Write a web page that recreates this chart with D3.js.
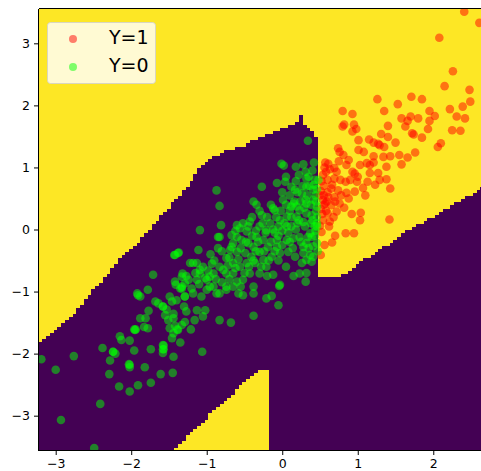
<!DOCTYPE html>
<html><head><meta charset="utf-8">
<script src="https://cdn.jsdelivr.net/npm/d3@7"></script>
<style>body{margin:0;background:#fff}svg{display:block}text{font-family:"DejaVu Sans",sans-serif;fill:#000}</style>
</head><body><svg id="c" width="481" height="471"></svg>
<script>
// ---- data ----
const xTicks = [-3, -2, -1, 0, 1, 2];
const yTicks = [-3, -2, -1, 0, 1, 2, 3];
const xDomain = [-3.221, 2.632];
const yDomain = [-3.553, 3.553];
const gridStep = 0.05;
const gridOrigin = [-3.227, -3.563];
const legendLabels = ["Y=1", "Y=0"];
// region predicted as class 0 (purple), traced as a polygon in data units
const class0Region = [
  [-3.3, -1.83], [-3.22, -1.83], [-2.81, -1.43], [-2.15, -0.48], [-1.75, -0.01],
  [-1.62, 0.20], [-1.26, 0.68], [-1.09, 1.01], [-0.92, 1.17], [-0.73, 1.28],
  [-0.56, 1.33], [-0.12, 1.57], [0.19, 1.72], [0.223, 1.72], [0.223, 1.84],
  [0.273, 1.84], [0.273, 1.70], [0.43, 1.55], [0.473, 1.41], [0.473, -0.763],
  [0.76, -0.763], [1.68, -0.01], [2.7, 0.70], [2.7, -3.6], [-0.177, -3.6],
  [-0.177, -2.263], [-0.295, -2.263], [-0.56, -2.537], [-1.486, -3.6], [-3.3, -3.6]
];
const pointsY1 = [
  [2.41,3.51],[2.61,3.33],[2.08,3.09],[2.26,2.55],[2.15,2.31],[2.48,2.25],[2.49,2.06],[2.39,1.98],
  [2.22,1.94],[2.31,1.82],[2.42,1.79],[2.36,1.59],[2.10,1.39],[2.06,1.33],[1.93,1.62],[2.02,1.83],
  [1.95,1.91],[1.85,2.10],[1.71,2.14],[1.53,2.02],[1.26,2.10],[1.35,1.91],[0.80,1.91],[0.93,1.86],
  [0.82,1.69],[0.95,1.69],[0.80,1.66],[0.93,1.58],[1.01,1.44],[1.58,1.79],[1.63,1.66],[1.70,1.82],
  [1.80,1.79],[1.66,1.75],[1.72,1.55],[1.74,1.53],[1.40,1.67],[1.31,1.54],[1.40,1.49],[1.21,1.40],
  [1.27,1.38],[1.29,1.36],[1.35,1.33],[0.74,1.31],[0.76,1.25],[0.81,1.20],[1.01,1.28],[1.21,1.18],
  [1.34,1.17],[1.43,1.18],[1.38,1.01],[1.21,1.08],[1.12,1.07],[1.76,1.24],[1.66,1.16],[1.58,1.05],
  [0.61,1.06],[0.58,0.93],[0.69,0.99],[0.72,0.93],[0.85,1.04],[0.93,0.93],[0.96,0.90],[1.03,1.04],
  [1.16,1.04],[1.16,0.91],[1.27,0.91],[1.29,0.80],[1.38,0.81],[1.43,0.66],[1.23,0.72],[1.13,0.77],
  [1.07,0.67],[0.99,0.77],[0.84,0.77],[0.77,0.80],[0.69,0.82],[0.60,0.80],[0.54,0.88],[0.65,0.66],
  [0.74,0.63],[0.85,0.59],[0.96,0.61],[0.61,0.52],[0.69,0.52],[0.54,0.48],[0.57,0.42],[0.65,0.39],
  [0.76,0.42],[0.72,0.29],[0.60,0.26],[0.51,0.33],[0.54,0.15],[0.63,0.13],[1.04,0.27],[1.03,0.15],
  [1.42,0.16],[0.84,-0.06],[0.95,-0.06],[0.66,-0.21],[0.51,-0.41],[0.57,1.08],[0.63,0.97],[0.51,0.62],
  [0.55,0.55],[0.59,0.45],[0.53,0.25],[0.50,0.06],[0.52,-0.04],[0.50,0.55],[0.55,0.40],
  [0.55,0.70],[0.60,0.60],[0.66,0.72],[0.70,0.45],[0.78,0.55],[0.82,0.35],[0.88,0.50],[0.90,0.80],
  [0.58,0.30],[0.62,0.05],[0.68,0.20],[0.52,0.78],[0.56,1.00],[0.75,1.10],[0.88,1.12],[1.00,0.85],
  [1.10,0.55],[0.92,0.25],[0.56,-0.25],[0.70,-0.10],[1.08,1.25],[1.15,1.45],[0.98,1.62],[1.50,1.40],
  [1.55,1.20],[1.85,1.48],[1.95,1.75],[2.25,1.60]
];
const pointsY0 = [
  [-3.19,-2.09],[-2.76,-2.04],[-3.00,-2.26],[-2.93,-3.07],[-2.41,-2.81],[-2.49,-3.52],[-2.38,-1.91],[-2.28,-2.11],
  [-2.24,-1.97],[-2.21,-2.00],[-2.29,-2.33],[-2.16,-2.53],[-2.15,-1.72],[-2.13,-1.78],[-2.02,-1.79],[-1.96,-1.95],
  [-2.03,-2.17],[-2.02,-2.22],[-2.02,-2.61],[-1.91,-2.51],[-1.82,-2.22],[-1.74,-1.93],[-1.74,-2.47],[-1.61,-2.33],
  [-1.45,-2.31],[-1.44,-2.05],[-1.58,-1.99],[-1.58,-1.86],[-1.57,-1.93],[-1.35,-1.82],[-1.06,-1.97],[-1.96,-1.61],
  [-1.94,-1.61],[-1.83,-1.57],[-1.78,-1.59],[-1.88,-1.43],[-1.81,-1.43],[-1.77,-1.31],[-1.68,-1.16],[-1.64,-1.19],
  [-1.92,-1.03],[-1.88,-1.08],[-1.78,-0.97],[-1.71,-0.73],[-1.53,-1.29],[-1.58,-1.24],[-1.55,-1.38],[-1.51,-1.46],
  [-1.49,-1.59],[-1.44,-1.67],[-1.46,-1.75],[-1.38,-1.62],[-1.33,-1.54],[-1.29,-1.49],[-1.44,-1.43],[-1.42,-1.55],
  [-1.49,-1.08],[-1.40,-1.14],[-1.46,-1.16],[-1.30,-1.24],[-1.27,-1.32],[-1.21,-1.61],[-1.16,-1.46],[-1.13,-1.30],
  [-1.18,-1.03],[-1.29,-1.08],[-1.33,-0.92],[-1.41,-0.89],[-1.43,-0.41],[-1.37,-0.37],[-1.11,-0.33],[-1.32,-0.71],
  [-1.27,-0.75],[-1.22,-0.54],[-1.05,-1.40],[-1.02,-1.30],[-0.83,-1.46],[-0.68,-1.50],[-1.09,-0.01],[-0.85,-0.12],
  [0.34,1.43],[0.42,1.08],[-0.01,1.06],[0.02,1.03],[0.18,1.01],[0.31,0.93],[-0.87,0.63],[-0.83,0.38],
  [-0.27,0.69],[-0.38,0.45],[-0.34,0.40],[-0.07,0.75],[0.04,0.77],[0.18,0.78],[0.12,0.69],[0.17,0.64],
  [0.32,0.82],[0.43,0.80],[-0.81,0.07],[-0.83,-0.12],[-1.42,-0.41],[-1.38,-0.38],[-0.60,0.07],[-0.43,0.13],
  [-0.27,0.23],[-0.12,0.34],[0.01,0.48],[0.15,0.42],[0.19,0.37],[0.31,0.48],[0.41,0.48],[0.32,0.26],
  [0.43,0.05],[0.39,-0.12],[0.32,-0.22],[0.41,-0.27],[0.28,-0.38],[0.32,-0.49],[0.23,-0.71],[0.31,-0.84],
  [-0.03,-0.89],[-0.12,-0.73],[-0.60,-0.84],[-0.38,-1.03],[-0.58,-1.03],[-1.07,-1.08],[-1.42,-0.84],
  [-0.38,-1.39],[-0.04,-0.91],[-0.05,-1.22],[-0.21,-1.11],[-0.14,-1.07],[0.32,-0.70],[0.39,-0.52],[0.37,-0.41],
  [0.34,-0.12],[-0.52,-1.06],[-0.38,-0.92],[-0.55,-0.92],
  [-0.67,-0.09],[-0.56,0.02],[-0.47,-0.03],[-0.54,-0.17],[-0.45,-0.22],[-0.34,-0.12],[-0.30,0.05],[-0.21,-0.01],
  [-0.16,0.10],[-0.05,0.05],[-0.03,0.15],[0.06,0.21],[0.12,0.05],[0.19,0.21],[0.23,0.31],[0.32,0.42],
  [0.39,0.23],[0.41,0.64],[0.32,0.69],[0.26,0.58],[0.46,0.05],[0.37,-0.06],[0.23,-0.12],[0.15,-0.14],
  [0.06,-0.17],[-0.07,-0.17],[-0.19,-0.28],[-0.30,-0.36],[-0.41,-0.44],[-0.49,-0.38],[-0.60,-0.36],[-0.67,-0.28],
  [-0.74,-0.46],[-0.65,-0.54],[-0.56,-0.60],[-0.47,-0.54],[-0.36,-0.54],[-0.25,-0.49],[-0.14,-0.44],[-0.03,-0.38],
  [0.08,-0.36],[0.17,-0.44],[0.26,-0.54],[0.41,-0.44],[0.46,-0.22],[0.46,0.37],[0.48,0.80],[-0.74,-0.71],
  [-0.83,-0.60],[-0.91,-0.71],[-1.00,-0.81],[-1.09,-0.65],[-1.18,-0.54],[-1.13,-0.81],[-0.96,-0.92],[-0.87,-1.03],
  [-0.74,-0.92],[-1.24,-0.81],[-1.35,-0.95],[-1.29,-1.08],[-0.25,-0.17],[-0.38,-0.28],[-0.07,-0.28],[0.28,-0.28],
  [0.06,0.05],[-0.10,0.31],[0.12,0.37],[-0.52,-0.81],[-0.30,-0.71],[-0.21,-0.60],[-0.43,-0.71],[0.46,0.10],
  [-1.13,-0.54],[-1.09,-0.71],[-0.96,-0.76],[-0.91,-0.92],[-1.00,-0.97],[-0.83,-1.03],[-0.74,-0.97],[-0.65,-0.92],
  [-0.65,-0.71],[-0.69,-0.33],[-0.65,-0.22],[-0.60,-0.12],[-1.33,-0.95],[-1.91,-1.06],[-1.95,-1.62],[-2.24,-1.97],
  [-2.02,-2.18],[-1.58,-1.24],[-1.44,-1.36],[-1.39,-1.61],[-1.57,-1.87],[-1.58,-1.93],[-1.33,-0.76],[-1.29,-0.87],
  [0.40,0.95],[0.44,0.55],[0.45,0.30],[0.38,0.10],[0.20,0.10],[-0.10,-0.05],[0.00,-0.02],[0.10,0.30],
  [0.28,0.12],[-0.20,0.20],[-0.35,-0.02],[-0.80,-0.35],[-0.90,-0.50],[-0.20,-0.75],[0.05,-0.60],[0.15,-0.75],
  [-0.05,-0.50],[0.10,-0.20],[0.36,0.70],[0.44,-0.02],
  [-1.20,-0.95],[-1.10,-0.88],[-1.05,-0.60],[-0.98,-0.66],[-0.93,-0.55],[-0.88,-0.80],[-0.80,-0.85],[-0.78,-0.65],
  [-0.72,-0.58],[-0.70,-0.80],[-0.62,-0.62],[-0.58,-0.48],[-0.55,-0.30],[-0.50,-0.70],[-0.48,-0.20],[-0.44,-0.60],
  [-0.40,-0.10],[-0.38,-0.50],[-0.35,-0.35],[-0.32,-0.20],[-0.28,-0.60],[-0.26,0.10],[-0.24,-0.35],[-0.22,-0.05],
  [-0.18,-0.50],[-0.15,-0.20],[-0.12,0.00],[-0.10,-0.35],[-0.08,0.20],[-0.05,-0.10],[-0.02,0.30],[0.00,-0.25],
  [0.03,0.10],[0.05,0.40],[0.08,-0.05],[0.10,0.55],[0.12,0.20],[0.14,-0.30],[0.16,0.45],[0.18,0.00],
  [0.20,0.60],[0.22,0.15],[0.24,0.45],[0.25,-0.20],[0.27,0.70],[0.29,0.35],[0.30,0.05],[0.33,0.55],
  [0.35,0.85],[0.35,-0.30],[0.38,0.40],[0.40,0.15],[0.42,0.72],[0.43,-0.10],[0.45,0.45],[0.46,0.65],
  [0.46,0.20],[0.47,-0.35],[-0.62,-0.02],[-0.70,-0.45],[-0.85,-0.30],[-0.95,-0.40],[-1.02,-0.78],[-1.15,-0.70],
  [-0.52,0.10],[-0.45,0.05],[-0.30,0.30],[-0.15,0.40],[0.00,0.60],[0.05,0.85],[0.22,0.88],[0.28,1.05],[-0.40,0.20]
];

// ---- drawing ----
const plot = {left: 39, top: 9, right: 481, bottom: 450};
const COL_YES = "#fde725", COL_NO = "#440154";
const svg = d3.select("#c");
const x = d3.scaleLinear().domain(xDomain).range([plot.left, plot.right]);
const y = d3.scaleLinear().domain(yDomain).range([plot.bottom, plot.top]);

svg.append("defs").append("clipPath").attr("id", "clip")
  .append("rect").attr("x", plot.left).attr("y", plot.top)
  .attr("width", plot.right - plot.left).attr("height", plot.bottom - plot.top);

const g = svg.append("g").attr("clip-path", "url(#clip)");
g.append("rect").attr("x", plot.left).attr("y", plot.top)
  .attr("width", plot.right - plot.left).attr("height", plot.bottom - plot.top)
  .attr("fill", COL_YES);

// rasterize the decision region on a mesh grid
const nx = Math.ceil((xDomain[1] - gridOrigin[0]) / gridStep) + 1;
const ny = Math.ceil((yDomain[1] - gridOrigin[1]) / gridStep) + 1;
const runs = [];
for (let j = 0; j < ny; j++) {
  const yc = gridOrigin[1] + (j + 0.5) * gridStep;
  let start = -1;
  for (let i = 0; i <= nx; i++) {
    const xc = gridOrigin[0] + (i + 0.5) * gridStep;
    const inside = i < nx && d3.polygonContains(class0Region, [xc, yc]);
    if (inside && start < 0) start = i;
    if (!inside && start >= 0) { runs.push({j, i0: start, i1: i}); start = -1; }
  }
}
g.append("g").attr("shape-rendering", "crispEdges").selectAll("rect").data(runs).join("rect")
  .attr("x", d => x(gridOrigin[0] + d.i0 * gridStep))
  .attr("width", d => x(gridOrigin[0] + d.i1 * gridStep) - x(gridOrigin[0] + d.i0 * gridStep))
  .attr("y", d => y(gridOrigin[1] + (d.j + 1) * gridStep))
  .attr("height", d => y(gridOrigin[1] + d.j * gridStep) - y(gridOrigin[1] + (d.j + 1) * gridStep))
  .attr("fill", COL_NO);

g.append("g").selectAll("circle").data(pointsY1).join("circle")
  .attr("cx", d => x(d[0])).attr("cy", d => y(d[1])).attr("r", 4.3)
  .attr("fill", "#ff0000").attr("fill-opacity", 0.5);
g.append("g").selectAll("circle").data(pointsY0).join("circle")
  .attr("cx", d => x(d[0])).attr("cy", d => y(d[1])).attr("r", 4.3)
  .attr("fill", "#00ff00").attr("fill-opacity", 0.5);

// spines
const sp = svg.append("g").attr("stroke", "#000").attr("stroke-width", 1).attr("shape-rendering", "crispEdges");
sp.append("line").attr("x1", plot.left - 0.5).attr("x2", plot.left - 0.5).attr("y1", plot.top - 0.5).attr("y2", plot.bottom + 0.5);
sp.append("line").attr("x1", plot.left - 0.5).attr("x2", plot.right).attr("y1", plot.top - 0.5).attr("y2", plot.top - 0.5);
sp.append("line").attr("x1", plot.left - 0.5).attr("x2", plot.right).attr("y1", plot.bottom + 0.5).attr("y2", plot.bottom + 0.5);

// axes
const fmt = v => (v < 0 ? "\u2212" + Math.abs(v) : String(v));
const xa = svg.append("g").attr("transform", `translate(0,${plot.bottom + 0.5})`)
  .call(d3.axisBottom(x).tickValues(xTicks).tickFormat(fmt).tickSize(4.5).tickPadding(4.5));
const ya = svg.append("g").attr("transform", `translate(${plot.left - 0.5},0)`)
  .call(d3.axisLeft(y).tickValues(yTicks).tickFormat(fmt).tickSize(4.5).tickPadding(4));
[xa, ya].forEach(a => {
  a.select(".domain").remove();
  a.selectAll("text").attr("font-family", "DejaVu Sans").attr("font-size", 12.5).attr("fill", "#000");
  a.selectAll("line").attr("stroke", "#000");
});

// legend
const lg = svg.append("g");
lg.append("rect").attr("x", 47.5).attr("y", 22.5).attr("width", 108).attr("height", 61)
  .attr("rx", 3).attr("fill", "#fff").attr("fill-opacity", 0.8)
  .attr("stroke", "#d0d0d0").attr("stroke-opacity", 0.8);
const legendColors = ["#ff0000", "#00ff00"];
const lgRow = d3.scalePoint().domain(legendLabels).range([39, 67]);
lg.selectAll("circle").data(legendLabels).join("circle")
  .attr("cx", 73).attr("cy", d => lgRow(d)).attr("r", 4)
  .attr("fill", (d, i) => legendColors[i]).attr("fill-opacity", 0.5);
lg.selectAll("text").data(legendLabels).join("text")
  .attr("x", 109).attr("y", d => lgRow(d) + 4.5).attr("font-size", 19)
  .text(d => d);
</script></body></html>
